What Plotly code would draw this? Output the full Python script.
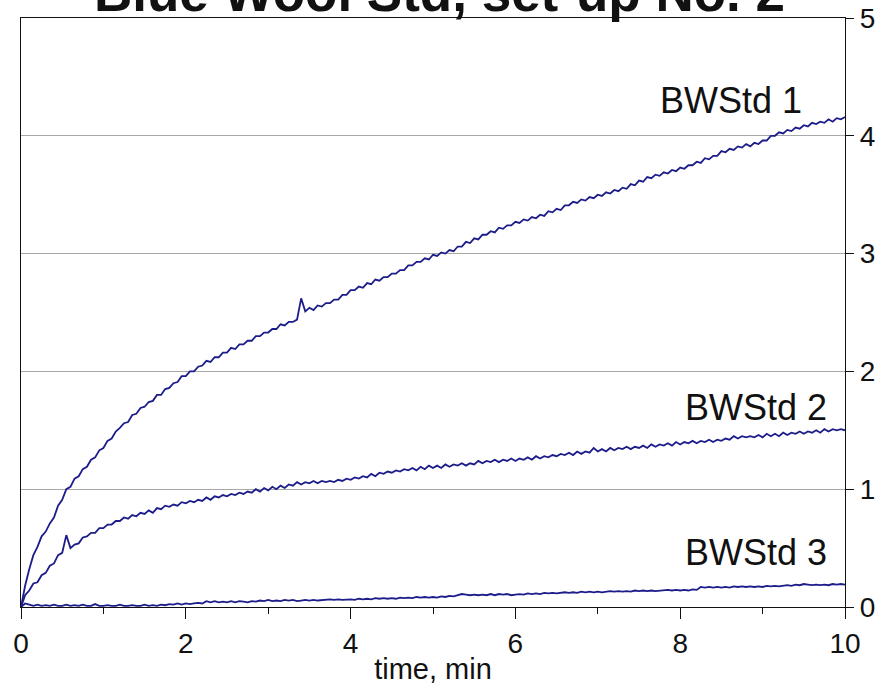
import plotly.graph_objects as go

# sampling grid (min), 0.05-min steps
time_min = [round(0.05 * i, 2) for i in range(201)]

bwstd1 = [
    0.00, 0.18, 0.32, 0.44, 0.51, 0.60, 0.64, 0.71, 0.76, 0.86, 0.91, 1.00, 1.02, 1.09, 1.11, 1.17, 1.19, 1.25, 1.27, 1.33,
    1.35, 1.41, 1.43, 1.49, 1.52, 1.56, 1.57, 1.63, 1.64, 1.69, 1.70, 1.74, 1.75, 1.80, 1.80, 1.85, 1.86, 1.90, 1.91, 1.96,
    1.96, 2.00, 2.00, 2.04, 2.05, 2.09, 2.08, 2.12, 2.12, 2.16, 2.16, 2.20, 2.19, 2.23, 2.23, 2.26, 2.26, 2.30, 2.30, 2.33,
    2.33, 2.36, 2.36, 2.40, 2.39, 2.42, 2.42, 2.44, 2.62, 2.51, 2.54, 2.52, 2.56, 2.55, 2.58, 2.58, 2.61, 2.61, 2.65, 2.65,
    2.69, 2.69, 2.72, 2.71, 2.75, 2.74, 2.78, 2.77, 2.80, 2.80, 2.83, 2.83, 2.86, 2.86, 2.90, 2.90, 2.93, 2.93, 2.96, 2.95,
    2.99, 2.98, 3.01, 3.00, 3.03, 3.02, 3.06, 3.06, 3.10, 3.09, 3.13, 3.12, 3.16, 3.16, 3.19, 3.18, 3.22, 3.21, 3.24, 3.24,
    3.27, 3.26, 3.29, 3.28, 3.31, 3.30, 3.33, 3.32, 3.36, 3.35, 3.38, 3.37, 3.41, 3.41, 3.44, 3.43, 3.46, 3.45, 3.48, 3.47,
    3.50, 3.49, 3.52, 3.51, 3.54, 3.53, 3.56, 3.55, 3.59, 3.58, 3.62, 3.61, 3.65, 3.64, 3.67, 3.66, 3.69, 3.68, 3.71, 3.70,
    3.73, 3.72, 3.75, 3.75, 3.78, 3.77, 3.81, 3.80, 3.83, 3.83, 3.87, 3.86, 3.89, 3.88, 3.91, 3.90, 3.93, 3.91, 3.94, 3.93,
    3.96, 3.96, 4.00, 4.00, 4.03, 4.02, 4.05, 4.04, 4.07, 4.06, 4.09, 4.08, 4.11, 4.10, 4.12, 4.11, 4.14, 4.12, 4.15, 4.14,
    4.16,
]

bwstd2 = [
    0.00, 0.10, 0.14, 0.20, 0.21, 0.27, 0.29, 0.35, 0.37, 0.44, 0.46, 0.61, 0.50, 0.53, 0.54, 0.59, 0.60, 0.63, 0.63, 0.67,
    0.67, 0.70, 0.70, 0.73, 0.73, 0.76, 0.75, 0.78, 0.77, 0.80, 0.79, 0.82, 0.80, 0.84, 0.83, 0.86, 0.85, 0.87, 0.86, 0.89,
    0.88, 0.90, 0.89, 0.91, 0.90, 0.93, 0.91, 0.94, 0.93, 0.95, 0.94, 0.96, 0.95, 0.97, 0.96, 0.98, 0.97, 1.00, 0.98, 1.01,
    0.99, 1.02, 1.00, 1.03, 1.01, 1.04, 1.03, 1.06, 1.04, 1.06, 1.05, 1.07, 1.05, 1.07, 1.06, 1.07, 1.06, 1.08, 1.07, 1.09,
    1.08, 1.10, 1.09, 1.11, 1.10, 1.13, 1.11, 1.14, 1.13, 1.15, 1.14, 1.16, 1.15, 1.17, 1.16, 1.18, 1.16, 1.19, 1.17, 1.20,
    1.18, 1.20, 1.18, 1.21, 1.19, 1.21, 1.20, 1.22, 1.20, 1.22, 1.21, 1.24, 1.22, 1.24, 1.23, 1.25, 1.23, 1.25, 1.24, 1.26,
    1.24, 1.26, 1.25, 1.27, 1.25, 1.28, 1.26, 1.28, 1.27, 1.29, 1.28, 1.30, 1.29, 1.31, 1.29, 1.32, 1.30, 1.32, 1.31, 1.35,
    1.32, 1.34, 1.32, 1.35, 1.33, 1.35, 1.34, 1.36, 1.34, 1.36, 1.35, 1.37, 1.35, 1.38, 1.36, 1.38, 1.37, 1.39, 1.37, 1.40,
    1.38, 1.40, 1.39, 1.41, 1.39, 1.41, 1.40, 1.42, 1.40, 1.42, 1.41, 1.43, 1.42, 1.45, 1.43, 1.45, 1.44, 1.45, 1.44, 1.46,
    1.44, 1.47, 1.45, 1.47, 1.45, 1.48, 1.46, 1.48, 1.47, 1.49, 1.47, 1.49, 1.48, 1.50, 1.48, 1.51, 1.49, 1.51, 1.50, 1.51,
    1.50,
]

bwstd3 = [
    0.000, 0.030, 0.020, 0.010, 0.020, 0.010, 0.015, 0.010, 0.020, 0.010, 0.010, 0.020, 0.010, 0.015, 0.010, 0.020, 0.010, 0.010, 0.025, 0.010,
    0.010, 0.015, 0.010, 0.010, 0.020, 0.010, 0.010, 0.015, 0.010, 0.010, 0.020, 0.010, 0.015, 0.010, 0.020, 0.015, 0.025, 0.020, 0.030, 0.020,
    0.030, 0.025, 0.030, 0.035, 0.030, 0.050, 0.040, 0.050, 0.040, 0.045, 0.040, 0.050, 0.040, 0.050, 0.045, 0.040, 0.050, 0.045, 0.055, 0.050,
    0.060, 0.050, 0.055, 0.050, 0.060, 0.055, 0.060, 0.050, 0.055, 0.060, 0.055, 0.060, 0.055, 0.060, 0.060, 0.065, 0.060, 0.065, 0.060, 0.065,
    0.065, 0.060, 0.070, 0.065, 0.070, 0.065, 0.075, 0.070, 0.075, 0.070, 0.075, 0.070, 0.080, 0.075, 0.080, 0.075, 0.085, 0.080, 0.085, 0.080,
    0.085, 0.080, 0.090, 0.085, 0.095, 0.090, 0.100, 0.110, 0.105, 0.100, 0.105, 0.100, 0.105, 0.100, 0.110, 0.100, 0.110, 0.105, 0.110, 0.100,
    0.105, 0.110, 0.105, 0.115, 0.110, 0.115, 0.110, 0.120, 0.115, 0.120, 0.115, 0.120, 0.125, 0.120, 0.125, 0.120, 0.130, 0.125, 0.130, 0.125,
    0.130, 0.125, 0.130, 0.135, 0.130, 0.135, 0.130, 0.135, 0.130, 0.140, 0.135, 0.140, 0.135, 0.140, 0.135, 0.140, 0.140, 0.145, 0.140, 0.145,
    0.140, 0.145, 0.140, 0.150, 0.145, 0.170, 0.165, 0.170, 0.165, 0.170, 0.165, 0.170, 0.165, 0.175, 0.170, 0.175, 0.170, 0.175, 0.170, 0.175,
    0.170, 0.180, 0.175, 0.180, 0.175, 0.180, 0.185, 0.180, 0.190, 0.185, 0.195, 0.190, 0.185, 0.190, 0.185, 0.190, 0.185, 0.195, 0.190, 0.195,
    0.190,
]

series = [("BWStd 1", bwstd1), ("BWStd 2", bwstd2), ("BWStd 3", bwstd3)]
label_pos = {"BWStd 1": (9.50, 4.30), "BWStd 2": (9.80, 1.69), "BWStd 3": (9.80, 0.46)}

title_text = "Blue Wool Std, set-up No. 2"
x_title = "time, min"
x_ticks = [0, 2, 4, 6, 8, 10]
y_ticks = [0, 1, 2, 3, 4, 5]

LINE = "#1c1c8a"
FONT = "Liberation Sans, Arial, sans-serif"

fig = go.Figure()
for name, vals in series:
    fig.add_trace(go.Scatter(x=time_min, y=vals, mode="lines", name=name,
                             line=dict(color=LINE, width=1.8), showlegend=False))

for name, (lx, ly) in label_pos.items():
    fig.add_annotation(x=lx, y=ly, xref="x", yref="y", text=name, showarrow=False,
                       xanchor="right", yanchor="middle",
                       font=dict(family=FONT, size=36, color="#111111"))

fig.add_annotation(x=0.508, y=0.99, xref="paper", yref="paper", text="<b>" + title_text + "</b>",
                   showarrow=False, xanchor="center", yanchor="bottom",
                   font=dict(family=FONT, size=53, color="#111111"))

fig.update_layout(
    width=887, height=691,
    margin=dict(l=21, r=42, t=18, b=84, autoexpand=False),
    paper_bgcolor="white", plot_bgcolor="white",
    font=dict(family=FONT, color="#111111"),
    xaxis=dict(range=[0, 10], tickvals=x_ticks, ticks="outside", ticklen=11, tickwidth=1.2,
               tickcolor="#111111", showline=True, linecolor="#111111", linewidth=1.2,
               mirror=True, showgrid=False, zeroline=False, automargin=False,
               tickfont=dict(size=28), title=dict(text=x_title, font=dict(size=29), standoff=0),
               minor=dict(dtick=1, ticks="outside", ticklen=6, tickcolor="#111111", showgrid=False)),
    yaxis=dict(range=[0, 5], tickvals=y_ticks, side="right", ticks="outside", ticklen=8,
               tickwidth=1.2, tickcolor="#111111", showline=True, linecolor="#111111",
               linewidth=1.2, mirror=True, showgrid=True, gridcolor="#a8a8a8", gridwidth=1,
               zeroline=False, automargin=False, tickfont=dict(size=28)),
)

fig.write_html("out.html")
